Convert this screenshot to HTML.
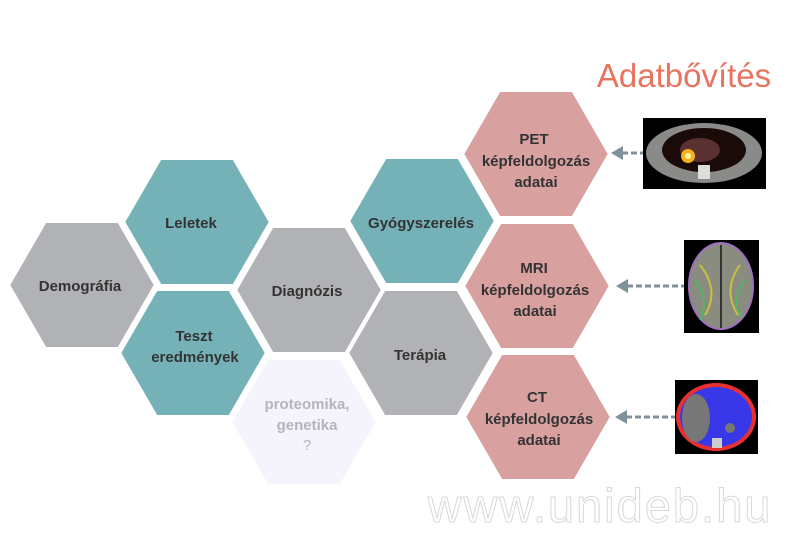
<!DOCTYPE html>
<html><head><meta charset="utf-8"><style>
html,body{margin:0;padding:0;background:#fff;}
svg{display:block;}
text{font-family:"Liberation Sans",sans-serif;}
</style></head><body>
<svg width="800" height="533" viewBox="0 0 800 533" xmlns="http://www.w3.org/2000/svg">
<defs>
<polygon id="hx" points="-74,0 -37,-64 37,-64 74,0 37,64 -37,64" stroke="#fff" stroke-width="4"/>
</defs>
<g>
<use href="#hx" x="82" y="285" fill="#b1b2b5"/>
<use href="#hx" x="197" y="222" fill="#75b2b8"/>
<use href="#hx" x="193" y="353" fill="#75b2b8"/>
<use href="#hx" x="309" y="290" fill="#b1b2b5"/>
<use href="#hx" x="304" y="422" fill="#f5f4fc"/>
<use href="#hx" x="422" y="221" fill="#75b2b8"/>
<use href="#hx" x="421" y="353" fill="#b1b2b5"/>
<use href="#hx" x="536" y="154" fill="#d9a0a0"/>
<use href="#hx" x="537" y="286" fill="#d9a0a0"/>
<use href="#hx" x="538" y="417" fill="#d9a0a0"/>
</g>
<g font-size="15" font-weight="bold" fill="#333" text-anchor="middle">
<text x="80" y="291">Demográfia</text>
<text x="191" y="228">Leletek</text>
<text x="194" y="341">Teszt</text>
<text x="195" y="362">eredmények</text>
<text x="307" y="296">Diagnózis</text>
<text x="421" y="228">Gyógyszerelés</text>
<text x="420" y="360">Terápia</text>
<text x="534" y="144">PET</text>
<text x="536" y="166">képfeldolgozás</text>
<text x="536" y="187">adatai</text>
<text x="534" y="273">MRI</text>
<text x="535" y="295">képfeldolgozás</text>
<text x="535" y="316">adatai</text>
<text x="537" y="402">CT</text>
<text x="539" y="424">képfeldolgozás</text>
<text x="539" y="445">adatai</text>
</g>
<g font-size="15" font-weight="bold" fill="#b4b4bb" text-anchor="middle">
<text x="307" y="409">proteomika,</text>
<text x="307" y="430">genetika</text>
<text x="307" y="450" font-weight="normal">?</text>
</g>
<text x="684" y="87" font-size="33" fill="#e8735f" text-anchor="middle">Adatbővítés</text>
<g stroke="#7f9199" stroke-width="3" stroke-dasharray="6,3" fill="none">
<line x1="622" y1="153" x2="643" y2="153"/>
<line x1="627" y1="286" x2="684" y2="286"/>
<line x1="626" y1="417" x2="675" y2="417"/>
</g>
<g fill="#7f9199">
<polygon points="611,153 623,146 623,160"/>
<polygon points="616,286 628,279 628,293"/>
<polygon points="615,417 627,410 627,424"/>
</g>
<rect x="643" y="118" width="123" height="71" fill="#000"/>
<ellipse cx="704" cy="153" rx="58" ry="30" fill="#8a8a88"/>
<ellipse cx="704" cy="150" rx="42" ry="22" fill="#1a0a08"/>
<ellipse cx="700" cy="150" rx="20" ry="12" fill="#5a3030"/>
<circle cx="688" cy="156" r="7" fill="#f8b020"/>
<circle cx="688" cy="156" r="3" fill="#fff6a0"/>
<rect x="698" y="165" width="12" height="14" fill="#ddd"/>
<rect x="684" y="240" width="75" height="93" fill="#000"/>
<ellipse cx="721" cy="286" rx="32" ry="43" fill="#8a8c80" stroke="#a070c0" stroke-width="2"/>
<path d="M700 265 Q720 290 705 315 M740 265 Q722 290 738 315" stroke="#c8c040" stroke-width="2" fill="none"/>
<path d="M695 280 Q710 300 700 320 M745 280 Q730 300 742 318" stroke="#40c060" stroke-width="1.5" fill="none"/>
<line x1="721" y1="245" x2="721" y2="328" stroke="#333" stroke-width="2"/>
<rect x="675" y="380" width="83" height="74" fill="#000"/>
<ellipse cx="716" cy="417" rx="40" ry="34" fill="#e83030"/>
<ellipse cx="716" cy="417" rx="36" ry="30" fill="#3838e8"/>
<ellipse cx="696" cy="418" rx="14" ry="24" fill="#777"/>
<circle cx="730" cy="428" r="5" fill="#777"/>
<rect x="712" y="438" width="10" height="10" fill="#ccc"/>
<text x="600" y="522" font-size="47" fill="#fff" stroke="#d8d8d8" stroke-width="1" text-anchor="middle" letter-spacing="2">www.unideb.hu</text>
</svg>
</body></html>
